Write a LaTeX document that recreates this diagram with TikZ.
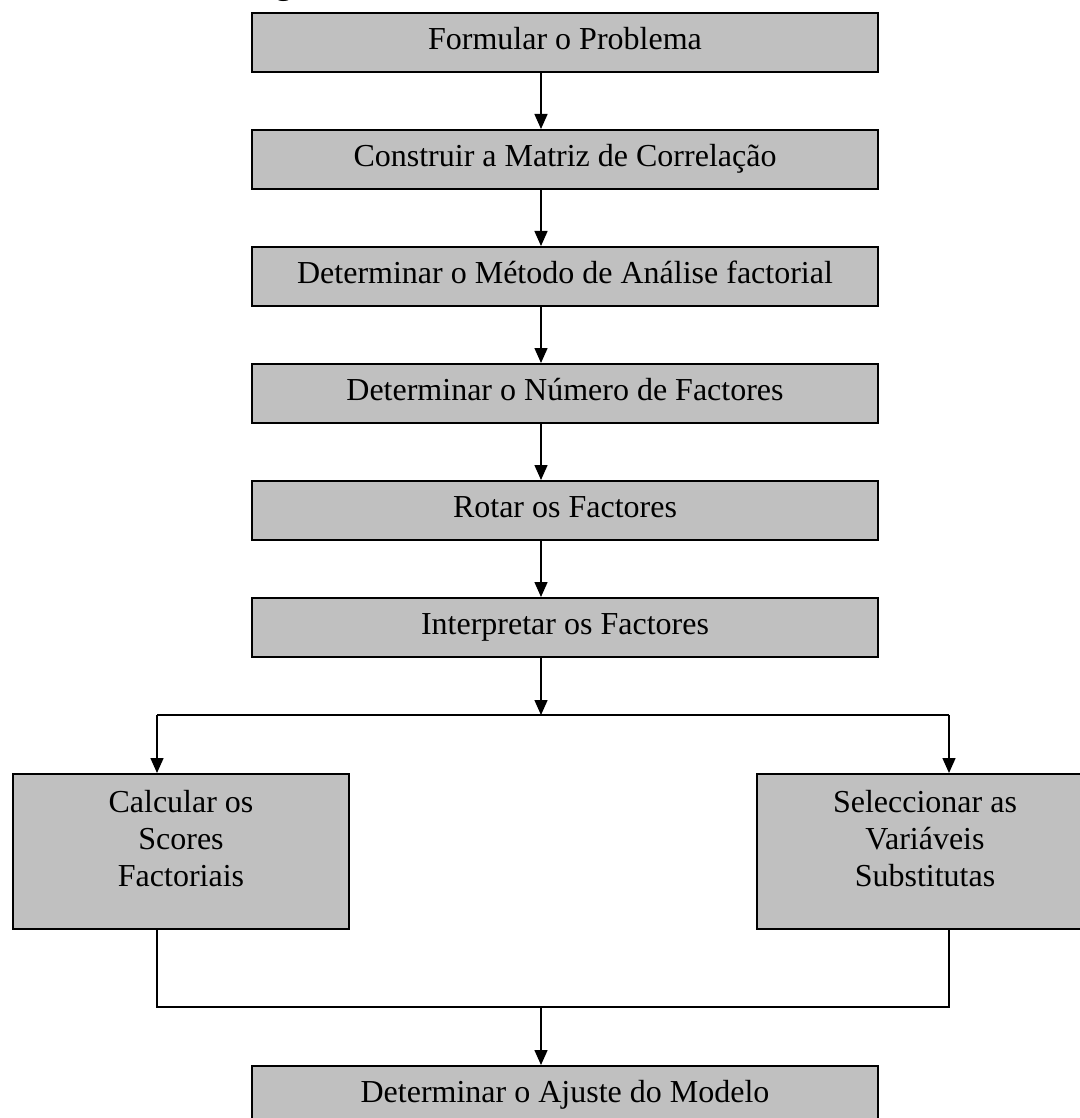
\documentclass[tikz,border=0pt]{standalone}
\usepackage{fontspec}
\setmainfont{Liberation Serif}
\usetikzlibrary{arrows.meta}
\definecolor{boxgray}{RGB}{192,192,192}
\begin{document}
\begin{tikzpicture}[x=0.5pt,y=-0.5pt,
  stepbox/.style={draw=black, line width=1pt, fill=boxgray,
    minimum width=313pt, minimum height=29.5pt, inner sep=0pt,
    font=\fontsize{16}{18.5}\selectfont, text height=0.68em, text depth=0pt},
  sidebox/.style={draw=black, line width=1pt, fill=boxgray,
    minimum width=168pt, minimum height=77.5pt, inner sep=0pt},
  sidetext/.style={align=center, inner sep=0pt,
    font=\fontsize{16}{18.5}\selectfont},
  link/.style={draw=black, line width=0.75pt,
    -{Triangle[length=7.5pt,width=6.5pt]}},
  wire/.style={draw=black, line width=0.75pt},
]
\useasboundingbox (0,0) rectangle (1080,1118);

% caption line above the chart
\node[anchor=base west, inner sep=0pt,
  font=\fontsize{16}{18}\selectfont\bfseries] (caption) at (247,-5.5) {Figura};

% main column of steps
\node[stepbox] (formular)  at (565,42.5)  {Formular o Problema};
\node[stepbox] (construir) at (565,159.5) {Construir a Matriz de Correlação};
\node[stepbox] (metodo)    at (565,276.5) {Determinar o Método de Análise factorial};
\node[stepbox] (numero)    at (565,393.5) {Determinar o Número de Factores};
\node[stepbox] (rotar)     at (565,510.5) {Rotar os Factores};
\node[stepbox] (interp)    at (565,627.5) {Interpretar os Factores};

% the two alternative branches
\node[sidebox] (calc)  at (181,851.5) {};
\node[sidetext] (calctxt) at (181,839) {Calcular os\\Scores\\Factoriais};
\node[sidebox] (selec) at (925,851.5) {};
\node[sidetext] (selectxt) at (925,839) {Seleccionar as\\Variáveis\\Substitutas};

% final step
\node[stepbox] (ajuste) at (565,1095.5) {Determinar o Ajuste do Modelo};

% routing points
\coordinate (col)    at (541,0);
\coordinate (split)  at (541,715);
\coordinate (splitL) at (157,715);
\coordinate (splitR) at (949,715);
\coordinate (mergeL) at (157,1007);
\coordinate (mergeR) at (949,1007);
\coordinate (merge)  at (541,1007);

% connectors
\draw[link] (formular.south -| col)  -- (construir.north -| col);
\draw[link] (construir.south -| col) -- (metodo.north -| col);
\draw[link] (metodo.south -| col)    -- (numero.north -| col);
\draw[link] (numero.south -| col)    -- (rotar.north -| col);
\draw[link] (rotar.south -| col)     -- (interp.north -| col);
\draw[link] (interp.south -| col)    -- (split);

\draw[wire] (splitL) -- (splitR);
\draw[link] (splitL) -- (calc.north -| splitL);
\draw[link] (splitR) -- (selec.north -| splitR);

\draw[wire] (calc.south -| mergeL) -- (mergeL) -- (mergeR) -- (selec.south -| mergeR);
\draw[link] (merge) -- (ajuste.north -| merge);
\end{tikzpicture}
\end{document}
